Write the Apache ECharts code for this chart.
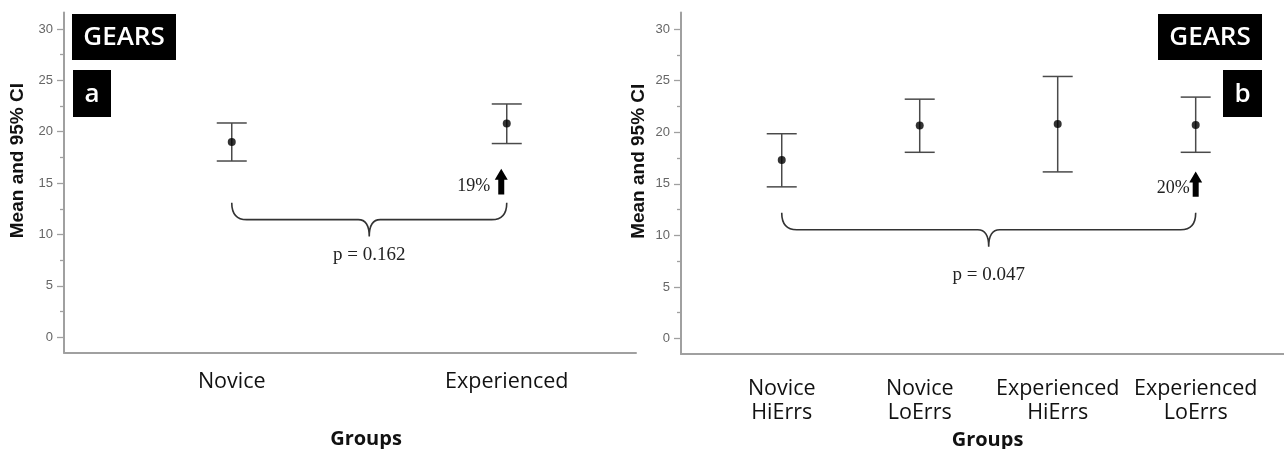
<!DOCTYPE html>
<html>
<head>
<meta charset="utf-8">
<script src="https://cdn.jsdelivr.net/npm/echarts@6/dist/echarts.min.js"></script>
<style>
  html, body { margin: 0; padding: 0; background: #fff; }
  #chart { width: 1284px; height: 449px; }
</style>
</head>
<body>
<div id="chart"></div>
<script>
// panel a: two groups
const groupsA = ['Novice', 'Experienced'];
const meanA = [19.0, 20.8];
const lowerA = [17.15, 18.85];
const upperA = [20.85, 22.7];

// panel b: four groups
const groupsB = ['Novice\nHiErrs', 'Novice\nLoErrs', 'Experienced\nHiErrs', 'Experienced\nLoErrs'];
const meanB = [17.3, 20.65, 20.8, 20.7];
const lowerB = [14.7, 18.05, 16.15, 18.05];
const upperB = [19.85, 23.2, 25.4, 23.4];

// y axis ticks
const yLabels = [0, 5, 10, 15, 20, 25, 30];
const yMinor = [2.5, 7.5, 12.5, 17.5, 22.5, 27.5];

// annotations: brace [from, to, end height, bar height], p text [x, y, text], arrow [x, base, tip, text]
const braceA = [0, 1, 13.1, 11.45];
const pTextA = [0.5, 8.0, 'p = 0.162'];
const arrowA = [0.98, 13.9, 16.4, '19%'];
const braceB = [0, 3, 12.2, 10.55];
const pTextB = [1.5, 6.15, 'p = 0.047'];
const arrowB = [3, 13.75, 16.2, '20%'];

const badges = ['GEARS', 'a', 'GEARS', 'b'];

const axisGray = '#a0a0a0';
const barColor = '#4a4a4a';

const chart = echarts.init(document.getElementById('chart'));

function errorBar(params, api) {
  const x = api.value(0);
  const lo = api.coord([x, api.value(1)]);
  const hi = api.coord([x, api.value(2)]);
  const half = 15;
  const style = { stroke: barColor, lineWidth: 1.5 };
  return {
    type: 'group',
    children: [
      { type: 'line', shape: { x1: hi[0], y1: hi[1], x2: lo[0], y2: lo[1] }, style },
      { type: 'line', shape: { x1: hi[0] - half, y1: hi[1], x2: hi[0] + half, y2: hi[1] }, style },
      { type: 'line', shape: { x1: lo[0] - half, y1: lo[1], x2: lo[0] + half, y2: lo[1] }, style }
    ]
  };
}

function brace(params, api) {
  const a = api.coord([api.value(0), api.value(2)]);
  const b = api.coord([api.value(1), api.value(2)]);
  const yl = api.coord([api.value(0), api.value(3)])[1];
  const xm = (a[0] + b[0]) / 2;
  const r = 15, tw = 11, d = 17;
  const p = 'M' + a[0] + ' ' + a[1] +
    ' Q' + a[0] + ' ' + yl + ' ' + (a[0] + r) + ' ' + yl +
    ' L' + (xm - tw) + ' ' + yl +
    ' Q' + xm + ' ' + yl + ' ' + xm + ' ' + (yl + d) +
    ' Q' + xm + ' ' + yl + ' ' + (xm + tw) + ' ' + yl +
    ' L' + (b[0] - r) + ' ' + yl +
    ' Q' + b[0] + ' ' + yl + ' ' + b[0] + ' ' + a[1];
  return { type: 'path', shape: { pathData: p }, style: { stroke: '#333', lineWidth: 1.6, fill: null } };
}

function pLabel(params, api) {
  const c = api.coord([api.value(0), api.value(1)]);
  return {
    type: 'text',
    style: {
      text: api.value(2), x: c[0], y: c[1], align: 'center', verticalAlign: 'middle',
      fontFamily: '"Liberation Serif", serif', fontSize: 19, fill: '#222'
    }
  };
}

function arrow(gap) {
  return function (params, api) {
    const base = api.coord([api.value(0), api.value(1)]);
    const tip = api.coord([api.value(0), api.value(2)]);
    const cx = base[0];
    const hw = 6.5, sw = 3, hh = 11;
    return {
      type: 'group',
      children: [
        {
          type: 'polygon',
          shape: {
            points: [
              [cx, tip[1]], [cx + hw, tip[1] + hh], [cx + sw, tip[1] + hh],
              [cx + sw, base[1]], [cx - sw, base[1]], [cx - sw, tip[1] + hh], [cx - hw, tip[1] + hh]
            ]
          },
          style: { fill: '#000' }
        },
        {
          type: 'text',
          style: {
            text: api.value(3), x: cx - gap, y: base[1] + 1, align: 'right', verticalAlign: 'bottom',
            fontFamily: '"Liberation Serif", serif', fontSize: 18, fill: '#222'
          }
        }
      ]
    };
  };
}

function xAxisFor(gridIndex, groups, min, max, margin, nameGap, namePad) {
  return {
    type: 'value', gridIndex, min, max, position: 'bottom',
    axisLine: { show: true, onZero: false, lineStyle: { color: axisGray, width: 2 } },
    axisTick: { show: false },
    splitLine: { show: false },
    axisLabel: {
      customValues: groups.map((g, i) => i),
      formatter: v => groups[Math.round(v)],
      margin, fontFamily: '"Open Sans"', fontSize: 21.5, color: '#111', lineHeight: 24
    },
    name: 'Groups', nameLocation: 'middle', nameGap,
    nameTextStyle: { fontFamily: '"Open Sans"', fontWeight: 'bold', fontSize: 20, color: '#111', padding: namePad }
  };
}

function yAxesFor(gridIndex, nameGap) {
  return [{
    type: 'value', gridIndex, min: -1.5, max: 31.6, position: 'left',
    axisLine: { show: true, onZero: false, lineStyle: { color: axisGray, width: 2 } },
    axisTick: { show: true, customValues: yLabels, length: 7, lineStyle: { color: axisGray, width: 1.3 } },
    axisLabel: { customValues: yLabels, margin: 11, fontFamily: '"Liberation Sans"', fontSize: 13, color: '#666' },
    splitLine: { show: false },
    name: 'Mean and 95% CI', nameLocation: 'middle', nameGap,
    nameTextStyle: { fontFamily: '"Liberation Sans"', fontWeight: 'bold', fontSize: 19, color: '#111', padding: [0, 0, 0, 44] }
  }, {
    type: 'value', gridIndex, min: -1.5, max: 31.6, position: 'left',
    axisLine: { show: false, onZero: false },
    axisTick: { show: true, customValues: yMinor, length: 4, lineStyle: { color: axisGray, width: 1.3 } },
    axisLabel: { show: false },
    splitLine: { show: false }
  }];
}

function badge(x, y, w, h, text, size) {
  return {
    type: 'group', left: x, top: y,
    children: [
      { type: 'rect', shape: { x: 0, y: 0, width: w, height: h }, style: { fill: '#000' } },
      {
        type: 'text', x: w / 2, y: h / 2 + 1,
        style: { text, fill: '#fff', align: 'center', verticalAlign: 'middle', fontFamily: '"Open Sans"', fontWeight: 600, fontSize: size }
      }
    ]
  };
}

const toPts = (m) => m.map((v, i) => [i, v]);
const toBars = (lo, hi) => lo.map((v, i) => [i, v, hi[i]]);

chart.setOption({
  animation: false,
  grid: [
    { left: 64, top: 12.5, width: 572, bottom: 96.3, outerBoundsMode: 'none' },
    { left: 681, top: 12.5, right: 0, bottom: 95, outerBoundsMode: 'none' }
  ],
  xAxis: [
    xAxisFor(0, groupsA, -0.61, 1.47, 17, 77, [0, 0, 0, 32]),
    xAxisFor(1, groupsB, -0.73, 3.64, 23, 74, [0, 0, 0, 10])
  ],
  yAxis: [...yAxesFor(0, 37), ...yAxesFor(1, 33)],
  graphic: [
    badge(72, 14, 104, 46, badges[0], 26),
    badge(73, 70, 38, 47, badges[1], 26),
    badge(1158, 14, 104, 46, badges[2], 26),
    badge(1223, 70, 39, 47, badges[3], 26)
  ],
  series: [
    { type: 'custom', xAxisIndex: 0, yAxisIndex: 0, renderItem: errorBar, data: toBars(lowerA, upperA) },
    { type: 'scatter', xAxisIndex: 0, yAxisIndex: 0, symbolSize: 8, itemStyle: { color: '#000' }, data: toPts(meanA) },
    { type: 'custom', xAxisIndex: 0, yAxisIndex: 0, renderItem: brace, data: [braceA] },
    { type: 'custom', xAxisIndex: 0, yAxisIndex: 0, renderItem: pLabel, data: [pTextA] },
    { type: 'custom', xAxisIndex: 0, yAxisIndex: 0, renderItem: arrow(11), data: [arrowA] },
    { type: 'custom', xAxisIndex: 1, yAxisIndex: 2, renderItem: errorBar, data: toBars(lowerB, upperB) },
    { type: 'scatter', xAxisIndex: 1, yAxisIndex: 2, symbolSize: 8, itemStyle: { color: '#000' }, data: toPts(meanB) },
    { type: 'custom', xAxisIndex: 1, yAxisIndex: 2, renderItem: brace, data: [braceB] },
    { type: 'custom', xAxisIndex: 1, yAxisIndex: 2, renderItem: pLabel, data: [pTextB] },
    { type: 'custom', xAxisIndex: 1, yAxisIndex: 2, renderItem: arrow(6), data: [arrowB] }
  ]
});
</script>
</body>
</html>
